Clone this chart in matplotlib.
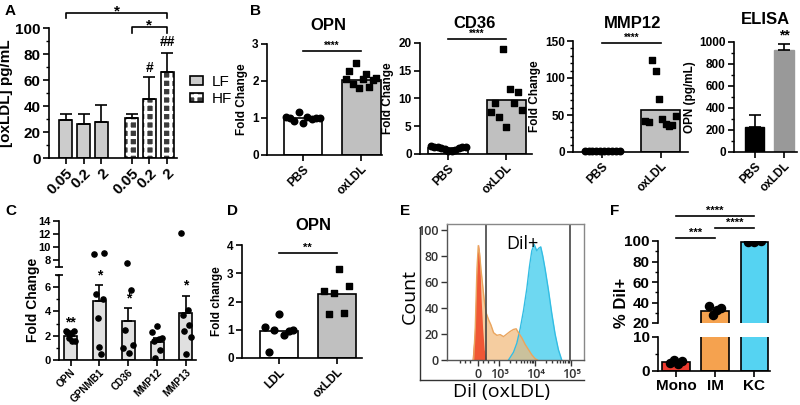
import numpy as np
import matplotlib.pyplot as plt
from matplotlib.lines import Line2D
from matplotlib.patches import Patch
from matplotlib.ticker import MultipleLocator, FixedLocator

plt.rcParams['font.family'] = ['Liberation Sans', 'DejaVu Sans']
plt.rcParams['font.weight'] = 'bold'
plt.rcParams['axes.labelweight'] = 'bold'
plt.rcParams['axes.titleweight'] = 'bold'
plt.rcParams['axes.linewidth'] = 1.2
for a in ('xtick', 'ytick'):
    plt.rcParams[a + '.major.width'] = 1.2
    plt.rcParams[a + '.minor.width'] = 1.0
    plt.rcParams[a + '.major.size'] = 4
    plt.rcParams[a + '.minor.size'] = 2.5
    plt.rcParams[a + '.major.pad'] = 2
plt.rcParams['hatch.linewidth'] = 2.2

# ---------------- data ----------------
# A: ELISA of oxLDL
a_conc = ['0.05', '0.2', '2', '0.05', '0.2', '2']
a_lf = [29, 26, 28]
a_lf_err = [5, 7.5, 12.5]
a_hf = [30.5, 45.5, 66]
a_hf_err = [3, 17, 15]

# B: qPCR fold change, PBS vs oxLDL
b_titles = ['OPN', 'CD36', 'MMP12']
b_pbs_mean = [1.0, 1.0, 1.0]
b_ox_mean = [2.03, 9.8, 57]
b_pbs_pts = [[1.02, 1.0, 0.93, 1.17, 0.86, 1.03, 0.98, 1.0, 1.01],
             [1.4, 1.3, 1.2, 1.1, 0.9, 0.6, 0.5, 0.8, 1.0, 1.2, 1.3],
             [1.0, 1.0, 1.0, 1.0, 1.0, 1.0, 1.0, 1.0, 1.0, 1.0]]
b_ox_pts = [[2.05, 2.28, 1.92, 2.48, 1.82, 2.06, 2.18, 1.85, 2.04, 2.07],
            [7.6, 9.2, 6.7, 18.9, 4.9, 11.8, 9.2, 11.1, 8.0],
            [42, 40, 124, 110, 72, 45, 38, 35, 37, 48]]
b_ylim = [3, 20, 150]
b_yticks = [[0, 1, 2, 3], [0, 5, 10, 15, 20], [0, 50, 100, 150]]
b_sig_y = [2.81, 20.7, 147]
elisa_groups = ['PBS', 'oxLDL']
elisa_mean = [225, 930]
elisa_err = [115, 55]

# C: fold change per gene
c_genes = ['OPN', 'GPNMB1', 'CD36', 'MMP12', 'MMP13']
c_mean = [1.95, 4.85, 3.25, 1.5, 3.9]
c_err = [0.3, 1.3, 1.0, 0.35, 1.4]
c_pts = [[2.35, 2.3, 1.85, 2.2, 1.55, 2.35, 1.6],
         [9.0, 5.4, 3.5, 1.05, 0.5, 5.0, 9.1],
         [1.0, 2.5, 7.6, 0.6, 5.8, 1.2],
         [2.3, 1.6, 0.15, 2.8, 1.75, 0.85, 1.8],
         [12.1, 3.7, 2.4, 0.5, 4.15, 2.9, 1.9]]
c_stars = ['**', '*', '*', '', '*']

# D: OPN LDL vs oxLDL
d_groups = ['LDL', 'oxLDL']
d_mean = [0.95, 2.27]
d_ldl = [1.1, 0.2, 1.0, 1.55, 0.8, 0.97, 1.0]
d_ox = [2.37, 1.55, 2.3, 3.15, 1.6, 2.55]

# E: flow histograms (x in log10 display units, y = count)
e_ticks = [2.4, 3, 4, 5]
e_ticklabels = ['0', '10³', '10⁴', '10⁵']
e_gate = [2.64, 4.97]
e_mono_x = [2.241, 2.306, 2.352, 2.398, 2.426, 2.454, 2.491, 2.537, 2.583, 2.639]
e_mono_y = [0, 20, 55, 85, 89, 80, 50, 25, 8, 0]
e_im_x = [2.287, 2.333, 2.380, 2.417, 2.454, 2.491, 2.537, 2.583, 2.639, 2.704,
          2.769, 2.843, 2.935, 3.028, 3.120, 3.213, 3.306, 3.398, 3.472, 3.537,
          3.630, 3.722, 3.815, 3.907, 4.0, 4.065]
e_im_y = [0, 25, 70, 88, 82, 70, 58, 46, 36, 31, 27, 21, 19, 19.5, 18, 20, 22,
          23.5, 24, 21, 17, 12, 8, 4, 1, 0]
e_kc_x = [3.259, 3.398, 3.491, 3.583, 3.676, 3.769, 3.843, 3.907, 3.972, 4.046,
          4.102, 4.157, 4.213, 4.278, 4.370, 4.463, 4.556, 4.648, 4.741]
e_kc_y = [0, 6, 13, 24, 38, 55, 72, 84, 89, 84, 86, 87, 80, 70, 54, 36, 20, 8, 0]

# F: % DiI+
f_groups = ['Mono', 'IM', 'KC']
f_mean = [2.7, 32, 99.5]
f_pts = [[2.5, 3.3, 2.2, 3.0], [36.3, 27.5, 32.4, 35], [99, 99.5, 100]]
f_colors = ['#ee3b2f', '#f5a24f', '#55d3f2']

# ---------------- figure ----------------
W, H = 800, 405
fig = plt.figure(figsize=(8, 4.05), dpi=100)


def box(l, t, r, b):
    return fig.add_axes([l / W, 1 - b / H, (r - l) / W, (b - t) / H])


def clean(ax):
    ax.spines['top'].set_visible(False)
    ax.spines['right'].set_visible(False)


def spread(n, w):
    return np.linspace(-w, w, n) if n > 1 else np.zeros(1)


def plabel(x, y, s):
    fig.text(x / W, 1 - y / H, s, fontsize=11, fontweight='bold', va='center')


def ftitle(x, y, s):
    fig.text(x / W, 1 - y / H, s, fontsize=12, fontweight='bold', ha='center', va='center')


# ---- A ----
ax = box(49, 28, 177, 158)
clean(ax)
xl = np.array([0, 1, 2])
xh = np.array([3.7, 4.7, 5.7])
ax.bar(xl, a_lf, 0.72, color='#cccccc', edgecolor='black', linewidth=1.2,
       yerr=[[0] * 3, a_lf_err], capsize=4, error_kw=dict(elinewidth=1.2, capthick=1.2))
ax.bar(xh, a_hf, 0.72, color='#3c3c3c', edgecolor='white', linewidth=0, hatch='++')
ax.bar(xh, a_hf, 0.72, fill=False, edgecolor='black', linewidth=1.2,
       yerr=[[0] * 3, a_hf_err], capsize=4, error_kw=dict(elinewidth=1.2, capthick=1.2))
ax.set_xlim(-0.95, 6.25)
ax.set_ylim(0, 100)
ax.set_yticks([0, 20, 40, 60, 80, 100])
ax.yaxis.set_minor_locator(MultipleLocator(10))
ax.set_xticks(list(xl) + list(xh))
ax.set_xticklabels(a_conc, rotation=45, ha='right', rotation_mode='anchor', fontsize=11)
ax.tick_params(axis='y', labelsize=11)
ax.set_ylabel('[oxLDL] pg/mL', fontsize=11)
ax.yaxis.set_label_coords(-0.28, 0.5)
ax.plot([xl[0], xl[0], xh[2], xh[2]], [108, 111.5, 111.5, 108], color='black', lw=1.2, clip_on=False)
ax.text((xl[0] + xh[2]) / 2, 109.5, '*', ha='center', va='baseline', fontsize=11)
ax.plot([xh[0], xh[0], xh[2], xh[2]], [96, 100.8, 100.8, 96], color='black', lw=1.2, clip_on=False)
ax.text(xh[1], 98.7, '*', ha='center', va='baseline', fontsize=11)
ax.text(xh[1], a_hf[1] + a_hf_err[1] + 7, '#', ha='center', va='center', fontsize=10)
ax.text(xh[2], a_hf[2] + a_hf_err[2] + 8, '##', ha='center', va='center', fontsize=10)
lf_patch = Patch(facecolor='#cccccc', edgecolor='black', linewidth=1.2)
hf_fill = Patch(facecolor='#3c3c3c', edgecolor='white', linewidth=0, hatch='++')
hf_edge = Patch(fill=False, edgecolor='black', linewidth=1.2)
fig.legend([lf_patch, (hf_fill, hf_edge)], ['LF', 'HF'], loc='upper left',
           bbox_to_anchor=(190 / W, 1 - 75 / H), frameon=False,
           borderpad=0, borderaxespad=0, handlelength=0.85, handleheight=0.5,
           labelspacing=0.2, handletextpad=0.6,
           prop=dict(weight='normal', size=11))
plabel(5, 11, 'A')

# ---- B ----
b_boxes = [(267, 44, 382, 155), (420, 43, 532, 154), (573, 41, 688, 152)]
b_xlims = [(-0.62, 1.36), (-0.48, 1.44), (-0.5, 1.47)]
b_title_pos = [(328, 25), (475, 23), (633, 23)]
for i in range(3):
    ax = box(*b_boxes[i])
    clean(ax)
    ax.bar([0, 1], [b_pbs_mean[i], b_ox_mean[i]], 0.67, color=['white', '#c0c0c0'],
           edgecolor='black', linewidth=1.2, zorder=1)
    p = b_pbs_pts[i]
    ax.scatter(spread(len(p), 0.3), p, s=22, marker='o', color='black', zorder=3, clip_on=False)
    q = b_ox_pts[i]
    ax.scatter(1 + spread(len(q), 0.26), q, s=20, marker='s', color='black', zorder=3, clip_on=False)
    ax.set_xlim(*b_xlims[i])
    ax.set_ylim(0, b_ylim[i])
    ax.set_yticks(b_yticks[i])
    if i == 2:
        ax.yaxis.set_minor_locator(MultipleLocator(10))
    ax.tick_params(labelsize=8.5)
    ax.set_xticks([0, 1])
    ax.set_xticklabels(['PBS', 'oxLDL'], rotation=45, ha='right', rotation_mode='anchor')
    ax.set_ylabel('Fold Change', fontsize=8.5, labelpad=3)
    ftitle(*b_title_pos[i], b_titles[i])
    ax.plot([0, 1], [b_sig_y[i]] * 2, color='black', lw=1.2, clip_on=False)
    ax.text(0.5, b_sig_y[i], '****', ha='center', va='bottom', fontsize=7)
plabel(250, 11, 'B')

ax = box(734, 42, 797, 152)
clean(ax)
ax.bar([0, 1], elisa_mean, 0.66, color=['black', '#999999'], edgecolor=['black', '#999999'],
       yerr=[[0, 0], elisa_err], capsize=4, error_kw=dict(elinewidth=1.2, capthick=1.2))
ax.set_xlim(-0.71, 1.44)
ax.set_ylim(0, 1000)
ax.set_yticks([0, 200, 400, 600, 800, 1000])
ax.yaxis.set_minor_locator(MultipleLocator(100))
ax.tick_params(labelsize=8.5)
ax.set_xticks([0, 1])
ax.set_xticklabels(elisa_groups, rotation=45, ha='right', rotation_mode='anchor')
ax.set_ylabel('OPN (pg/mL)', fontsize=8.5, labelpad=2)
ftitle(765, 20, 'ELISA')
ax.text(1, elisa_mean[1] + elisa_err[1] + 15, '**', ha='center', va='bottom', fontsize=10)

# ---- C ----
xc = np.arange(len(c_genes))
axu = box(59, 221, 196, 267)
axl = box(59, 275, 196, 360)
for axc, lo, hi in ((axu, 7, 14), (axl, 0, 7)):
    clean(axc)
    axc.bar(xc, c_mean, 0.45, color='#e0e0e0', edgecolor='black', linewidth=1.2,
            yerr=[[0] * 5, c_err], capsize=3, error_kw=dict(elinewidth=1.2, capthick=1.2))
    for j in range(len(c_genes)):
        axc.scatter(xc[j] + spread(len(c_pts[j]), 0.17), c_pts[j], s=14, color='black', zorder=3)
    axc.set_xlim(-0.4, 4.35)
    axc.set_ylim(lo, hi)
    axc.tick_params(labelsize=8)
axu.spines['bottom'].set_visible(False)
axu.set_xticks([])
axu.set_yticks([8, 10, 12, 14])
axu.plot([-0.4], [7], marker='_', color='black', ms=6, mew=1.2, clip_on=False)
axl.set_yticks([0, 2, 4, 6])
axl.yaxis.set_minor_locator(MultipleLocator(1))
axl.plot([-0.4], [7], marker='_', color='black', ms=6, mew=1.2, clip_on=False)
axl.set_xticks(xc)
axl.set_xticklabels(c_genes, rotation=45, ha='right', rotation_mode='anchor', fontsize=7.2)
axl.tick_params(axis='x', pad=1)
for j in range(len(c_genes)):
    if c_stars[j]:
        axl.text(xc[j], c_mean[j] + c_err[j] + 0.25, c_stars[j], ha='center', va='bottom', fontsize=10)
fig.text(33 / W, 1 - 300 / H, 'Fold Change', rotation=90, ha='center', va='center', fontsize=10)
plabel(5, 211, 'C')

# ---- D ----
ax = box(242, 245, 362, 358)
clean(ax)
ax.bar([0, 1], d_mean, 0.66, color=['white', '#c0c0c0'], edgecolor='black', linewidth=1.2)
ax.scatter(spread(len(d_ldl), 0.25), d_ldl, s=24, color='black', zorder=3)
ax.scatter(1 + spread(len(d_ox), 0.22), d_ox, s=22, marker='s', color='black', zorder=3)
ax.set_xlim(-0.64, 1.44)
ax.set_ylim(0, 4)
ax.set_yticks([0, 1, 2, 3, 4])
ax.tick_params(labelsize=8.5)
ax.set_xticks([0, 1])
ax.set_xticklabels(d_groups, rotation=45, ha='right', rotation_mode='anchor')
ax.set_ylabel('Fold change', fontsize=8.5, labelpad=3)
ftitle(313, 225, 'OPN')
ax.plot([0, 1], [3.7, 3.7], color='black', lw=1.2)
ax.text(0.5, 3.72, '**', ha='center', va='bottom', fontsize=8)
plabel(227, 211, 'D')

# ---- E ----
ax = box(447, 224, 584, 360)
ax.fill_between(e_kc_x, e_kc_y, color='#5ed4f0', alpha=0.9, lw=0)
ax.plot(e_kc_x, e_kc_y, color='#33bde3', lw=1)
ax.fill_between(e_im_x, e_im_y, color='#f2b878', alpha=0.7, lw=0)
ax.plot(e_im_x, e_im_y, color='#eaa55e', lw=1)
ax.fill_between(e_mono_x, e_mono_y, color='#f04a2a', alpha=0.9, lw=0)
for g in e_gate:
    ax.axvline(g, color='#444444', lw=1.2)
ax.set_xlim(1.546, 5.361)
ax.set_ylim(0, 104.6)
ax.set_yticks([0, 20, 40, 60, 80, 100])
ax.set_xticks(e_ticks)
ax.set_xticklabels(e_ticklabels)
minor = [1.9, 2.05, 2.2, 2.55, 2.7, 2.85] + [np.log10(k * 10 ** n) for n in (3, 4) for k in range(2, 10)]
ax.xaxis.set_minor_locator(FixedLocator(minor))
ax.tick_params(labelsize=9, colors='#333333', width=1)
ax.tick_params(axis='x', which='minor', length=2, color='#333333')
for s in ('top', 'right'):
    ax.spines[s].set_color('#888888')
    ax.spines[s].set_linewidth(1)
for s in ('left', 'bottom'):
    ax.spines[s].set_color('#555555')
    ax.spines[s].set_linewidth(1)
for lab in ax.get_xticklabels() + ax.get_yticklabels():
    lab.set_family('Open Sans')
    lab.set_weight('semibold')
ax.text(3.65, 89, 'Dil+', ha='center', va='center', fontsize=13, fontweight='normal', family='Open Sans')
fig.add_artist(Line2D([420 / W, 420 / W], [1 - 228 / H, 1 - 380 / H], color='#333333', lw=1))
fig.add_artist(Line2D([420 / W, 584 / W], [1 - 380 / H, 1 - 380 / H], color='#333333', lw=1))
fig.text(410 / W, 1 - 297 / H, 'Count', rotation=90, ha='center', va='center',
         fontsize=14, fontweight='normal', family='Open Sans')
fig.text(502 / W, 1 - 392 / H, 'Dil (oxLDL)', ha='center', va='center',
         fontsize=14, fontweight='normal', family='Open Sans')
plabel(400, 211, 'E')

# ---- F ----
xf = np.arange(3)
fu = box(658, 241, 770, 323)
fl = box(658, 337, 770, 371)
for axf, lo, hi in ((fu, 20, 100), (fl, 0, 10)):
    clean(axf)
    axf.bar(xf, f_mean, 0.7, color=f_colors, edgecolor='black', linewidth=1.2)
    for j in range(3):
        axf.scatter(xf[j] + spread(len(f_pts[j]), 0.16), f_pts[j], s=34, color='black', zorder=3)
    axf.set_xlim(-0.46, 2.4)
    axf.set_ylim(lo, hi)
    axf.tick_params(labelsize=11)
fu.spines['bottom'].set_visible(False)
fu.set_xticks([])
fu.set_yticks([20, 40, 60, 80, 100])
fu.yaxis.set_minor_locator(MultipleLocator(10))
fl.set_yticks([0, 10])
fl.yaxis.set_minor_locator(MultipleLocator(5))
fl.set_xticks(xf)
fl.set_xticklabels(f_groups, fontsize=11)
for (x0, x1), yv, st in (((0, 2), 124.4, '****'), ((1, 2), 112.7, '****'), ((0, 1), 102.9, '***')):
    fu.plot([x0, x1], [yv, yv], color='black', lw=1.2, clip_on=False)
    fu.text((x0 + x1) / 2, yv + 0.5, st, ha='center', va='bottom', fontsize=8)
fig.text(622 / W, 1 - 303 / H, '% Dil+', rotation=90, ha='center', va='center', fontsize=12)
plabel(610, 211, 'F')

fig.savefig('out.png', dpi=100)
